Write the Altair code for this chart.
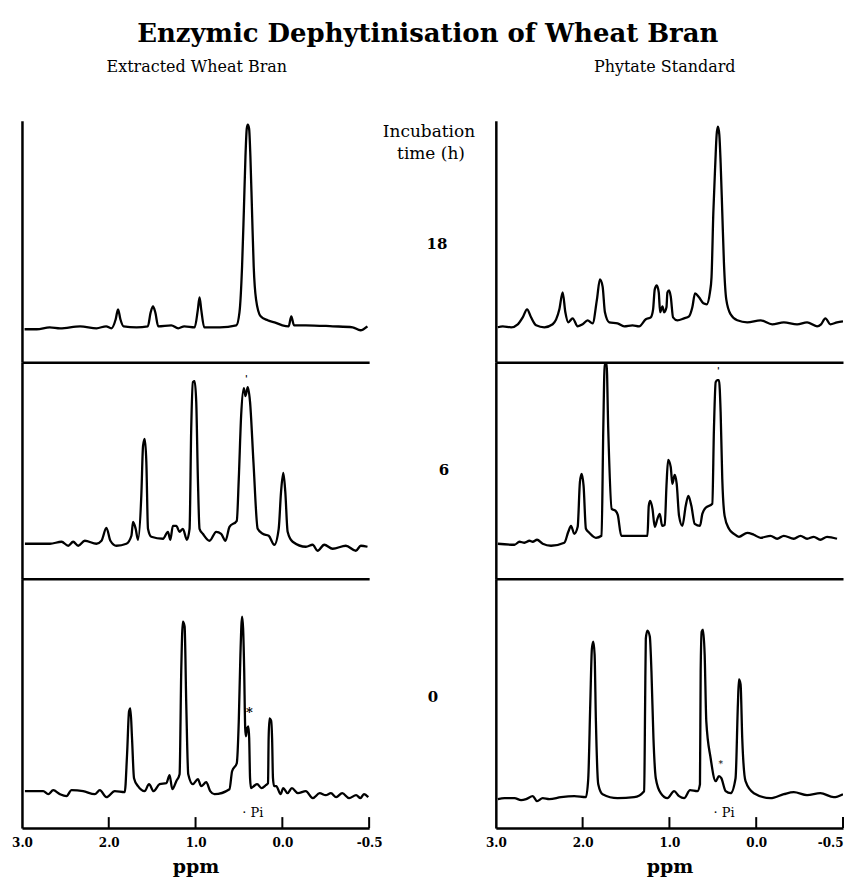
import altair as alt
import pandas as pd

FONT = "DejaVu Serif"

title_text = "Enzymic Dephytinisation of Wheat Bran"
column_titles = ["Extracted Wheat Bran", "Phytate Standard"]
incubation_label = ["Incubation", "time (h)"]
incubation_times = ["18", "6", "0"]
tick_values = [3.0, 2.0, 1.0, 0.0, -1.0]
tick_labels = ["3.0", "2.0", "1.0", "0.0", "-0.5"]
x_title = "ppm"

# ---- Extracted wheat bran, 18 h ----
bran18_ppm = [2.97, 2.83, 2.68, 2.56, 2.33, 2.14, 2.03, 1.97, 1.92, 1.893,
              1.866, 1.83, 1.68, 1.55, 1.517, 1.49, 1.464, 1.43, 1.28, 1.20,
              1.13, 1.01, 0.973, 0.954, 0.935, 0.90, 0.72, 0.53, 0.494, 0.464,
              0.444, 0.425, 0.41, 0.398, 0.383, 0.368, 0.349, 0.33, 0.303, 0.25,
              0.17, 0.09, 0.0, -0.073, -0.103, -0.134, -0.27, -0.58, -0.81, -0.90,
              -0.98]
bran18_int = [33, 33, 35, 34, 36, 34, 36, 34, 43, 53,
              43, 36, 35, 36, 50, 56, 50, 36, 37, 34,
              36, 35, 53, 65, 53, 35, 35, 37, 50, 96,
              150, 206, 234, 238, 234, 206, 150, 96, 63, 46,
              42, 40, 37, 36, 46, 37, 37, 36, 35, 32,
              36]

# ---- Extracted wheat bran, 6 h ----
bran6_ppm = [2.966, 2.678, 2.544, 2.467, 2.41, 2.352, 2.276, 2.142, 2.084, 2.027,
             1.981, 1.912, 1.797, 1.739, 1.72, 1.69, 1.663, 1.625, 1.605, 1.586,
             1.567, 1.548, 1.51, 1.375, 1.318, 1.291, 1.261, 1.222, 1.184, 1.146,
             1.10, 1.069, 1.05, 1.031, 1.011, 0.992, 0.973, 0.954, 0.916, 0.839,
             0.762, 0.705, 0.655, 0.609, 0.525, 0.502, 0.475, 0.444, 0.425, 0.398,
             0.372, 0.333, 0.284, 0.226, 0.157, 0.092, 0.042, 0.015, -0.011, -0.034,
             -0.061, -0.119, -0.272, -0.349, -0.406, -0.483, -0.579, -0.732, -0.847, -0.904,
             -0.981]
bran6_int = [35, 35, 37, 33, 37, 33, 38, 35, 38, 51,
             38, 33, 35, 43, 57, 50, 39, 83, 133, 140,
             117, 50, 42, 40, 47, 39, 53, 53, 47, 50,
             39, 50, 150, 197, 198, 177, 100, 50, 45, 38,
             47, 45, 38, 52, 58, 100, 163, 191, 183, 192,
             177, 117, 50, 45, 43, 34, 50, 87, 106, 87,
             47, 37, 32, 34, 28, 34, 30, 33, 28, 33,
             32]

# ---- Extracted wheat bran, 0 h ----
bran0_ppm = [2.966, 2.755, 2.697, 2.64, 2.563, 2.487, 2.429, 2.295, 2.161, 2.103,
             2.027, 1.931, 1.816, 1.789, 1.766, 1.751, 1.732, 1.709, 1.663, 1.586,
             1.536, 1.483, 1.414, 1.337, 1.299, 1.268, 1.222, 1.184, 1.165, 1.146,
             1.126, 1.107, 1.084, 1.031, 0.973, 0.935, 0.877, 0.831, 0.782, 0.609,
             0.579, 0.525, 0.502, 0.483, 0.464, 0.452, 0.44, 0.428, 0.42, 0.405,
             0.392, 0.382, 0.372, 0.36, 0.33, 0.29, 0.24, 0.19, 0.165, 0.158,
             0.148, 0.13, 0.118, 0.108, 0.095, 0.07, 0.02, -0.01, -0.06, -0.11,
             -0.18, -0.27, -0.35, -0.43, -0.50, -0.56, -0.62, -0.69, -0.77, -0.85,
             -0.90, -0.94, -0.99]
bran0_int = [37, 37, 34, 38, 34, 32, 38, 37, 34, 38,
             31, 37, 36, 74, 117, 120, 90, 50, 42, 37,
             44, 37, 44, 45, 53, 39, 47, 54, 157, 207,
             202, 124, 54, 44, 49, 42, 46, 37, 34, 39,
             57, 65, 107, 174, 212, 200, 160, 100, 92, 100,
             102, 90, 50, 40, 42, 44, 40, 43, 45, 90,
             110, 108, 90, 50, 42, 42, 34, 40, 35, 40,
             35, 37, 30, 35, 33, 35, 31, 35, 30, 33,
             30, 34, 31]

# ---- Phytate standard, 18 h ----
phy18_ppm = [2.977, 2.92, 2.824, 2.747, 2.69, 2.64, 2.594, 2.536, 2.441, 2.345,
             2.268, 2.23, 2.199, 2.165, 2.115, 2.057, 2.0, 1.943, 1.885, 1.835,
             1.801, 1.77, 1.743, 1.693, 1.598, 1.521, 1.425, 1.349, 1.272, 1.215,
             1.188, 1.169, 1.146, 1.123, 1.107, 1.08, 1.061, 1.034, 1.023, 1.004,
             0.985, 0.958, 0.908, 0.831, 0.774, 0.736, 0.705, 0.659, 0.609, 0.571,
             0.533, 0.515, 0.494, 0.471, 0.456, 0.441, 0.425, 0.41, 0.391, 0.372,
             0.345, 0.295, 0.218, 0.103, -0.05, -0.184, -0.318, -0.471, -0.586, -0.701,
             -0.747, -0.797, -0.854, -0.931, -1.0]
phy18_int = [35, 36, 35, 38, 45, 53, 45, 37, 35, 38,
             53, 70, 50, 40, 44, 36, 38, 42, 39, 63,
             83, 76, 50, 40, 39, 36, 37, 36, 43, 45,
             53, 73, 77, 70, 50, 56, 50, 55, 70, 72,
             66, 45, 42, 44, 46, 55, 69, 65, 59, 58,
             70, 85, 150, 200, 228, 236, 228, 200, 150, 100,
             63, 48, 42, 40, 42, 38, 40, 38, 40, 36,
             38, 44, 38, 40, 41]

# ---- Phytate standard, 6 h ----
phy6_ppm = [2.977, 2.785, 2.728, 2.67, 2.613, 2.575, 2.525, 2.46, 2.364, 2.211,
            2.165, 2.134, 2.096, 2.057, 2.031, 2.011, 1.989, 1.962, 1.923, 1.847,
            1.782, 1.762, 1.745, 1.724, 1.705, 1.665, 1.62, 1.595, 1.555, 1.406,
            1.253, 1.238, 1.222, 1.195, 1.169, 1.138, 1.111, 1.084, 1.054, 1.034,
            1.015, 0.985, 0.966, 0.939, 0.916, 0.889, 0.851, 0.812, 0.782, 0.747,
            0.709, 0.647, 0.621, 0.582, 0.506, 0.487, 0.467, 0.448, 0.429, 0.41,
            0.391, 0.364, 0.314, 0.257, 0.199, 0.103, 0.027, -0.05, -0.165, -0.241,
            -0.318, -0.433, -0.51, -0.586, -0.663, -0.739, -0.816, -0.931]
phy6_int = [35, 34, 37, 36, 38, 37, 39, 35, 33, 36,
            47, 53, 45, 52, 97, 105, 93, 50, 46, 41,
            43, 150, 216, 216, 150, 70, 68, 64, 43, 43,
            43, 73, 78, 70, 52, 60, 65, 53, 54, 93,
            119, 112, 95, 104, 95, 63, 53, 73, 83, 73,
            55, 53, 65, 71, 75, 150, 197, 199, 199, 167,
            100, 63, 50, 45, 42, 46, 44, 41, 43, 40,
            43, 40, 43, 40, 42, 39, 42, 40]

# ---- Phytate standard, 0 h ----
phy0_ppm = [2.977, 2.90, 2.785, 2.709, 2.651, 2.575, 2.525, 2.46, 2.383, 2.249,
            2.096, 1.962, 1.935, 1.912, 1.893, 1.877, 1.862, 1.847, 1.82, 1.77,
            1.598, 1.406, 1.291, 1.28, 1.272, 1.253, 1.226, 1.207, 1.184, 1.157,
            1.10, 1.023, 0.946, 0.889, 0.831, 0.762, 0.678, 0.648, 0.64, 0.628,
            0.613, 0.594, 0.575, 0.525, 0.467, 0.429, 0.402, 0.352, 0.295, 0.238,
            0.211, 0.199, 0.18, 0.161, 0.123, 0.027, -0.165, -0.318, -0.433, -0.586,
            -0.739, -0.893, -1.0]
phy0_int = [29, 30, 30, 28, 29, 32, 27, 30, 29, 31,
            32, 31, 50, 124, 180, 187, 174, 107, 44, 34,
            30, 31, 37, 124, 190, 198, 192, 157, 90, 50,
            35, 30, 37, 32, 30, 38, 37, 44, 157, 197,
            199, 174, 107, 70, 47, 52, 50, 37, 35, 50,
            124, 149, 144, 90, 47, 35, 30, 34, 36, 33,
            35, 31, 34]

# annotation marks (text, ppm, intensity)
bran0_star = ("*", 0.38, 115)
bran0_pi = ("\u00b7 Pi", 0.34, 15)
phy0_star = ("*", 0.41, 64)
phy0_pi = ("\u00b7 Pi", 0.37, 15)
bran6_mark = ("'", 0.414, 200)
phy6_mark = ("'", 0.437, 208)

PANEL_H = [242, 217, 250]
LEFT_W = 348
RIGHT_W = 348
MID_W = 103

label_expr = "".join(
    f"datum.value == {v} ? '{l}' : " for v, l in zip(tick_values, tick_labels)
) + "''"


def note_layer(note, xscale, yscale, size, weight="normal"):
    text, p, v = note
    df = pd.DataFrame({"ppm": [p], "intensity": [v], "label": [text]})
    return alt.Chart(df).mark_text(
        font=FONT, fontSize=size, fontWeight=weight, color="black", baseline="middle"
    ).encode(
        x=alt.X("ppm:Q", scale=xscale),
        y=alt.Y("intensity:Q", scale=yscale),
        text="label:N",
    )


def spectrum(ppm, inten, height, width, bottom, right=False, notes=()):
    df = pd.DataFrame({"ppm": ppm, "intensity": inten})
    xscale = alt.Scale(domain=[3.0, -1.0], nice=False, zero=False)
    yscale = alt.Scale(domain=[0, height], nice=False)
    if bottom:
        align = "center"
        if right:
            align = {"condition": {"test": "datum.value == -1", "value": "right"},
                     "value": "center"}
        xaxis = alt.Axis(values=tick_values, labelExpr=label_expr, ticks=False,
                         domainWidth=2.5, domainColor="black", grid=False,
                         labelFont=FONT, labelFontSize=12, labelFontWeight="bold",
                         labelColor="black", labelPadding=9, labelAlign=align,
                         labelOverlap=False, title=x_title, titleFont=FONT,
                         titleFontSize=19, titleFontWeight="bold", titleColor="black",
                         titlePadding=10)
    else:
        xaxis = alt.Axis(ticks=False, labels=False, title=None, grid=False,
                         domainWidth=2.5, domainColor="black")
    yaxis = alt.Axis(ticks=False, labels=False, title=None, grid=False,
                     domainWidth=2.5, domainColor="black")
    line = alt.Chart(df).mark_line(
        color="black", strokeWidth=2.3, interpolate="monotone",
        strokeJoin="round", clip=True
    ).encode(
        x=alt.X("ppm:Q", scale=xscale, axis=xaxis),
        y=alt.Y("intensity:Q", scale=yscale, axis=yaxis),
        order=alt.Order("ppm:Q", sort="descending"),
    )
    layers = [line]
    if bottom:
        tdf = pd.DataFrame({"ppm": tick_values[1:]})
        rules = alt.Chart(tdf).mark_rule(color="black", strokeWidth=2).encode(
            x=alt.X("ppm:Q", scale=xscale),
            y=alt.value(height - 11),
            y2=alt.value(height),
        )
        layers.append(rules)
    for note, size, weight in notes:
        layers.append(note_layer(note, xscale, yscale, size, weight))
    return alt.layer(*layers).properties(width=width, height=height)


def text_layer(text, x, y, size, weight="normal", baseline="middle"):
    return alt.Chart(pd.DataFrame({"label": [text]})).mark_text(
        font=FONT, fontSize=size, fontWeight=weight, color="black",
        baseline=baseline, align="center"
    ).encode(text="label:N", x=alt.value(x), y=alt.value(y))


col_title = dict(font=FONT, fontSize=16, fontWeight="normal", anchor="middle",
                 baseline="alphabetic", offset=33, color="black")

left_col = alt.VConcatChart(
    vconcat=[
        spectrum(bran18_ppm, bran18_int, PANEL_H[0], LEFT_W, False),
        spectrum(bran6_ppm, bran6_int, PANEL_H[1], LEFT_W, False,
                 notes=[(bran6_mark, 9, "bold")]),
        spectrum(bran0_ppm, bran0_int, PANEL_H[2], LEFT_W, True,
                 notes=[(bran0_star, 13, "bold"), (bran0_pi, 13, "normal")]),
    ],
    spacing=0,
    title=alt.TitleParams(column_titles[0], **col_title),
)

mid_col = alt.VConcatChart(
    vconcat=[
        alt.layer(
            text_layer(incubation_label[0], 47, 16, 17, baseline="alphabetic"),
            text_layer(incubation_label[1], 49, 38, 17, baseline="alphabetic"),
            text_layer(incubation_times[0], 55, 124, 15, "bold"),
        ).properties(width=MID_W, height=PANEL_H[0]),
        text_layer(incubation_times[1], 62, 108, 15, "bold").properties(
            width=MID_W, height=PANEL_H[1]),
        text_layer(incubation_times[2], 51, 119, 15, "bold").properties(
            width=MID_W, height=PANEL_H[2]),
    ],
    spacing=0,
    title=alt.TitleParams(" ", **col_title),
)

right_col = alt.VConcatChart(
    vconcat=[
        spectrum(phy18_ppm, phy18_int, PANEL_H[0], RIGHT_W, False),
        spectrum(phy6_ppm, phy6_int, PANEL_H[1], RIGHT_W, False,
                 notes=[(phy6_mark, 9, "bold")]),
        spectrum(phy0_ppm, phy0_int, PANEL_H[2], RIGHT_W, True, right=True,
                 notes=[(phy0_star, 9, "normal"), (phy0_pi, 13, "normal")]),
    ],
    spacing=0,
    title=alt.TitleParams(column_titles[1], **col_title),
)

chart = alt.HConcatChart(
    hconcat=[left_col, mid_col, right_col],
    spacing=0,
    title=alt.TitleParams(title_text, font=FONT, fontSize=26, fontWeight="bold",
                          anchor="middle", baseline="alphabetic", offset=-9,
                          color="black"),
).properties(
    padding={"left": 3, "top": 12, "right": 0, "bottom": 0},
    background="white",
).configure_view(stroke=None)

chart.save("out.html", embed_options={"renderer": "svg", "actions": False})
